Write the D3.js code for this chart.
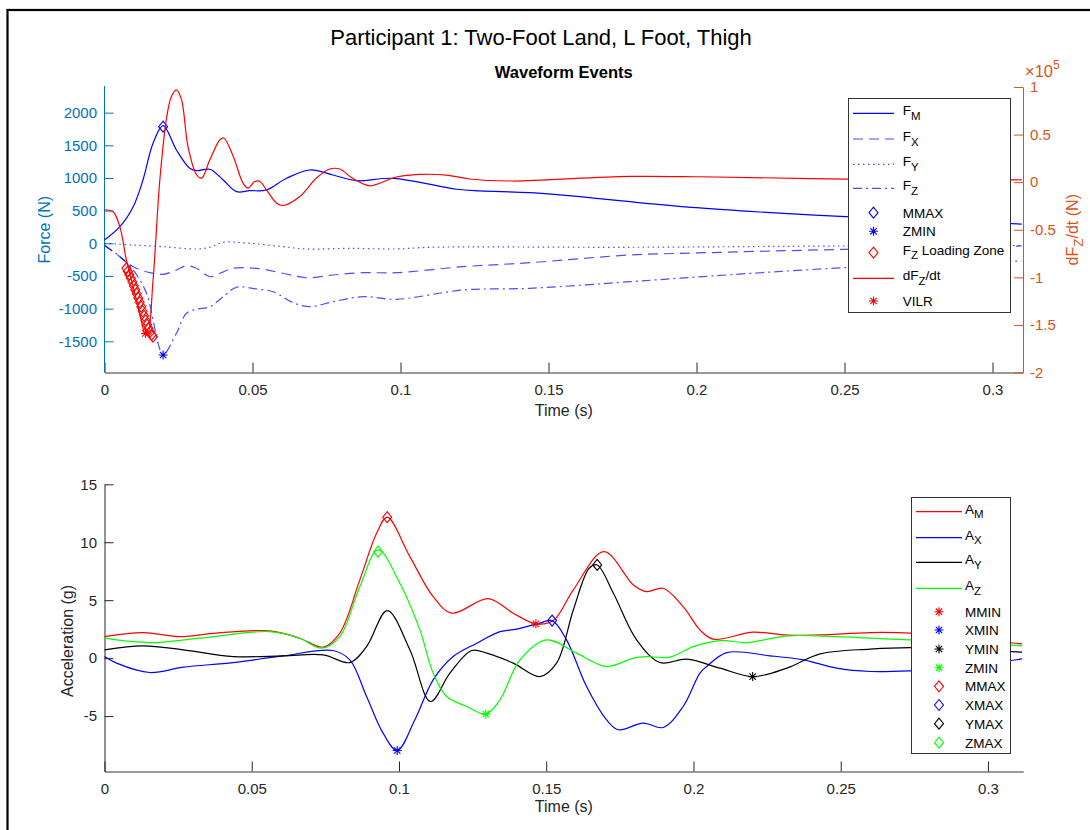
<!DOCTYPE html>
<html>
<head>
<meta charset="utf-8">
<title>Participant 1: Two-Foot Land, L Foot, Thigh</title>
<script src="https://cdnjs.cloudflare.com/ajax/libs/d3/7.8.5/d3.min.js"></script>
<style>
body { margin: 0; background: #fff; }
svg text { font-family: "Liberation Sans", Arial, Helvetica, sans-serif; }
</style>
</head>
<body>
<svg id="chart" width="1090" height="830"></svg>
<script>
// ---- force plate data (time s, force N) ----
var forceM = [[0,50],[0.0052,254],[0.0097,560],[0.0130,969],[0.0164,1531],[0.0198,1800],[0.0243,1428],[0.0288,1148],
  [0.0311,1111],[0.0356,1133],[0.0401,969],[0.0446,790],[0.0491,805],[0.0547,816],[0.0615,995],[0.0694,1122],
  [0.0772,1045],[0.0851,958],[0.0975,995],[0.1189,827],[0.1268,801],[0.1437,775],[0.1606,713],[0.1775,637],
  [0.2000,545],[0.2214,479],[0.2504,407],[0.2788,349],[0.3099,295]];
var forceX = [[0,-26],[0.0052,-205],[0.0097,-358],[0.0153,-450],[0.0198,-475],[0.0243,-409],[0.0277,-343],[0.0311,-383],
  [0.0356,-511],[0.0390,-459],[0.0434,-383],[0.0514,-383],[0.0603,-459],[0.0682,-527],[0.0772,-485],[0.0874,-450],
  [0.0986,-450],[0.1211,-358],[0.1437,-297],[0.1775,-179],[0.2000,-148],[0.2504,-92],[0.3099,-41]];
var forceY = [[0,0],[0.0097,-26],[0.0198,-52],[0.0311,-87],[0.0356,-61],[0.0401,15],[0.0491,0],[0.0603,-52],
  [0.0682,-87],[0.0829,-77],[0.0986,-87],[0.1099,-61],[0.1775,-61],[0.2504,-41],[0.3099,-34]];
var forceZ = [[0,-37],[0.0052,-205],[0.0097,-409],[0.0142,-765],[0.0164,-1174],[0.0181,-1531],[0.0198,-1710],
  [0.0243,-1378],[0.0277,-1071],[0.0311,-1010],[0.0356,-970],[0.0401,-817],[0.0446,-673],[0.0514,-700],
  [0.0570,-741],[0.0637,-909],[0.0694,-970],[0.0772,-894],[0.0874,-817],[0.0986,-857],[0.1211,-715],
  [0.1437,-689],[0.1775,-588],[0.2000,-516],[0.2504,-373],[0.3099,-271]];
// dFz/dt in units of 1e5 N/s
var dFzdt = [[0,-0.29],[0.0029,-0.31],[0.0052,-0.47],[0.0074,-0.82],[0.0097,-1.10],[0.0119,-1.38],[0.0136,-1.59],
  [0.0145,-1.61],[0.0164,-1.03],[0.0187,0.025],[0.0209,0.66],[0.0226,0.90],[0.0243,0.97],[0.0260,0.87],
  [0.0282,0.375],[0.0311,0.078],[0.0328,0.043],[0.0356,0.235],[0.0390,0.446],[0.0403,0.464],[0.0435,0.27],
  [0.0468,-0.01],[0.0485,-0.062],[0.0508,0.007],[0.0525,0.007],[0.0547,-0.08],[0.0581,-0.22],[0.0603,-0.245],
  [0.0660,-0.15],[0.0716,0.043],[0.0761,0.138],[0.0795,0.138],[0.0829,0.06],[0.0851,0.018],[0.0896,-0.038],
  [0.0986,0.054],[0.1065,0.081],[0.1155,0.075],[0.1234,0.033],[0.1380,0.012],[0.1493,0.025],[0.1775,0.06],
  [0.2011,0.057],[0.2504,0.033],[0.3099,0.025]];
var loadZoneT = [0.0074,0.0079,0.0084,0.0089,0.0094,0.0099,0.0104,0.0109,0.0114,0.0119,0.0124,0.0129,0.0134,
  0.0139,0.0144,0.0149,0.0154,0.0159,0.0164];
var loadZoneF = [-383,-430,-480,-535,-592,-650,-710,-772,-836,-902,-970,-1040,-1110,-1180,-1245,-1305,-1358,-1400,-1430];
var forceMMAX = [0.0198, 1785];
var forceZMIN = [0.0198, -1710];
var forceVILR = [0.0138, -1.59];

// ---- accelerometer data (time s, acceleration g) ----
var accM = [[0,1.86],[0.0131,2.21],[0.0256,1.86],[0.0380,2.16],[0.0561,2.35],[0.0663,1.72],[0.0743,0.95],[0.0799,2.16],
  [0.0867,6.75],[0.0924,10.78],[0.0960,12.16],[0.1037,8.76],[0.1116,5.31],[0.1179,3.88],[0.1303,5.14],[0.1388,3.88],
  [0.1465,2.96],[0.1524,3.24],[0.1592,5.89],[0.1696,9.19],[0.1796,6.32],[0.1841,5.74],[0.1897,6.03],[0.1965,4.45],
  [0.2022,2.44],[0.2067,1.64],[0.2203,2.24],[0.2317,1.98],[0.2430,2.01],[0.2600,2.21],[0.2735,2.16],[0.2905,1.75],[0.3116,1.23]];
var accX = [[0,0.14],[0.0041,-0.43],[0.0154,-1.24],[0.0267,-0.78],[0.0437,-0.38],[0.0607,0.2],[0.0776,0.66],[0.0833,-0.15],
  [0.0890,-3.31],[0.0946,-6.47],[0.0994,-7.97],[0.1054,-5.32],[0.1116,-1.87],[0.1184,0.14],[0.1264,1.29],[0.1343,2.29],
  [0.1399,2.5],[0.1478,3.02],[0.1520,3.24],[0.1569,1.58],[0.1637,-2.45],[0.1705,-5.32],[0.1745,-6.18],[0.1829,-5.6],
  [0.1897,-5.98],[0.1965,-4.17],[0.2022,-1.29],[0.2045,-0.72],[0.2113,0.48],[0.2260,0.2],[0.2373,-0.15],[0.2486,-0.86],
  [0.2600,-1.15],[0.2735,-1.09],[0.2922,-0.75],[0.3116,-0.06]];
var accY = [[0,0.72],[0.0131,1.06],[0.0267,0.72],[0.0437,0.14],[0.0607,0.2],[0.0743,0.28],[0.0833,-0.38],[0.0890,1.0],
  [0.0960,4.1],[0.1037,0.72],[0.1107,-3.74],[0.1173,-1.29],[0.1247,0.66],[0.1298,0.43],[0.1388,-0.43],[0.1478,-1.59],
  [0.1535,-0.43],[0.1592,4.16],[0.1646,7.76],[0.1673,8.04],[0.1728,5.6],[0.1807,1.58],[0.1886,-0.38],[0.1977,-0.09],
  [0.2090,-0.86],[0.2201,-1.59],[0.2317,-0.86],[0.2430,0.37],[0.2600,0.78],[0.2735,0.91],[0.2922,0.72],[0.3116,0.52]];
var accZ = [[0,1.72],[0.0154,1.34],[0.0324,1.72],[0.0561,2.29],[0.0663,1.72],[0.0737,0.86],[0.0799,1.86],[0.0867,6.17],
  [0.0929,9.34],[0.1003,6.47],[0.1071,2.44],[0.1116,-1.29],[0.1162,-3.31],[0.1230,-4.17],[0.1295,-4.83],[0.1343,-3.59],
  [0.1411,-0.15],[0.1501,1.58],[0.1603,0.43],[0.1705,-0.72],[0.1796,0],[0.1841,0.14],[0.1920,0.09],[0.1999,1.0],
  [0.2090,1.52],[0.2181,1.34],[0.2317,1.92],[0.2486,1.86],[0.2656,1.66],[0.2735,1.58],[0.2922,1.4],[0.3116,1.06]];
var accMins = [["MMIN",0.1465,2.96],["XMIN",0.0994,-7.97],["YMIN",0.2201,-1.59],["ZMIN",0.1295,-4.83]];
var accMaxs = [["MMAX",0.0960,12.16],["XMAX",0.1520,3.24],["YMAX",0.1673,8.04],["ZMAX",0.0929,9.19]];

var timeTicks = [0,0.05,0.1,0.15,0.2,0.25,0.3];
var forceTicks = [-1500,-1000,-500,0,500,1000,1500,2000];
var rateTicks = [-2e5,-1.5e5,-1e5,-0.5e5,0,0.5e5,1e5];
var accTicks = [-5,0,5,10,15];

var BLUE_AX = "#0072BD", ORANGE_AX = "#D95319", DARK = "#262626";

var svg = d3.select("#chart");
svg.append("rect").attr("width",1090).attr("height",830).attr("fill","#fff");
svg.append("rect").attr("x",7.5).attr("y",10).attr("width",1200).attr("height",1000)
  .attr("fill","none").attr("stroke","#000").attr("stroke-width",2.2);

svg.append("text").attr("x",541).attr("y",45).attr("text-anchor","middle")
  .attr("font-size",22).attr("fill","#000").text("Participant 1: Two-Foot Land, L Foot, Thigh");

function fmtNum(d){ return String(+d.toFixed(2)); }

function styleAxis(g, color, size){
  g.selectAll("path").attr("stroke", color).attr("stroke-width",1);
  g.selectAll("line").attr("stroke", color);
  g.selectAll("text").attr("fill", color).attr("font-size", size).attr("font-family",'"Liberation Sans", Arial, sans-serif');
}

var smooth = d3.curveCatmullRom.alpha(0.5);
function drawSeries(g, data, x, y, color, dash, op){
  g.append("path").datum(data)
    .attr("d", d3.line().x(function(d){return x(d[0]);}).y(function(d){return y(d[1]);}).curve(smooth))
    .attr("fill","none").attr("stroke",color).attr("stroke-width",1.2)
    .attr("stroke-dasharray",dash || null).attr("stroke-opacity", op || 1);
}
var diamondPath = "M0,-5.5L4.5,0L0,5.5L-4.5,0Z";
var starPath = "M-4.5,0L4.5,0M0,-4.5L0,4.5M-3.2,-3.2L3.2,3.2M-3.2,3.2L3.2,-3.2";
function marker(g, type, cx, cy, color){
  g.append("path").attr("d", type === "diamond" ? diamondPath : starPath)
    .attr("transform","translate(" + cx + "," + cy + ")")
    .attr("fill","none").attr("stroke",color).attr("stroke-width",1.1);
}
function labelText(g, x, y, parts, size, anchor, color){
  var t = g.append("text").attr("x",x).attr("y",y).attr("font-size",size).attr("fill",color || "#000");
  if (anchor) t.attr("text-anchor", anchor);
  t.append("tspan").text(parts[0]);
  if (parts[1]) {
    t.append("tspan").attr("dy", size*0.35).attr("font-size", size*0.85).text(parts[1]);
    if (parts[2]) t.append("tspan").attr("dy", -size*0.35).attr("font-size", size).text(parts[2]);
  }
  return t;
}

// ================= TOP PLOT =================
var topL = 104.5, topR = 1023, topT = 87, topB = 372.5;
var xTop = d3.scaleLinear().domain([0,0.3103]).range([topL, topR]);
var yForce = d3.scaleLinear().domain([-1977.7, 2392.5]).range([topB, topT]);
var yRate = d3.scaleLinear().domain([-2e5, 1e5]).range([topB, topT]);

svg.append("defs").append("clipPath").attr("id","clipTop").append("rect")
  .attr("x",topL).attr("y",topT-5).attr("width",topR-topL).attr("height",topB-topT+5);

var gTop = svg.append("g");
gTop.append("text").attr("x",(topL+topR)/2).attr("y",78).attr("text-anchor","middle")
  .attr("font-size",16.5).attr("font-weight","bold").attr("fill","#000").text("Waveform Events");

var gx = gTop.append("g").attr("transform","translate(0," + topB + ")")
  .call(d3.axisBottom(xTop).tickValues(timeTicks).tickFormat(fmtNum).tickSizeInner(-10).tickSizeOuter(0).tickPadding(12));
styleAxis(gx, DARK, 15);
gx.select(".domain").attr("stroke","#777").attr("stroke-width",1.4);
var gl = gTop.append("g").attr("transform","translate(" + topL + ",0)")
  .call(d3.axisLeft(yForce).tickValues(forceTicks).tickFormat(String).tickSizeInner(-9).tickSizeOuter(0).tickPadding(7.5));
gl.select(".domain").attr("d","M0," + topB + "V" + (topT-1));
styleAxis(gl, BLUE_AX, 15);
var gr = gTop.append("g").attr("transform","translate(" + topR + ",0)")
  .call(d3.axisRight(yRate).tickValues(rateTicks).tickFormat(function(d){return fmtNum(d/1e5);}).tickSizeInner(-9).tickSizeOuter(0).tickPadding(7));
styleAxis(gr, ORANGE_AX, 15);

// exponent label
var ex = gTop.append("text").attr("x",1025).attr("y",77).attr("font-size",16.5).attr("fill",ORANGE_AX);
ex.append("tspan").text("\u00d710");
ex.append("tspan").attr("dy",-8).attr("font-size",12).text("5");

gTop.append("text").attr("x",(topL+topR)/2).attr("y",416).attr("text-anchor","middle")
  .attr("font-size",16).attr("fill",DARK).text("Time (s)");
gTop.append("text").attr("transform","translate(50," + ((topT+topB)/2) + ") rotate(-90)")
  .attr("text-anchor","middle").attr("font-size",16).attr("fill",BLUE_AX).text("Force (N)");
var rl = labelText(gTop, 0, 0, ["dF","Z","/dt (N)"], 16, "middle", ORANGE_AX);
rl.attr("transform","translate(1077.5," + ((topT+topB)/2) + ") rotate(-90)");

var plotTop = gTop.append("g").attr("clip-path","url(#clipTop)");
drawSeries(plotTop, forceM, xTop, yForce, "#0000ff");
drawSeries(plotTop, forceX, xTop, yForce, "#0000ff", "10,6", 0.7);
drawSeries(plotTop, forceY, xTop, yForce, "#0000ff", "1.5,3.5", 0.7);
drawSeries(plotTop, forceZ, xTop, yForce, "#0000ff", "9,4,2,4", 0.7);
marker(plotTop, "diamond", xTop(forceMMAX[0]), yForce(forceMMAX[1]), "#0000ff");
marker(plotTop, "star", xTop(forceZMIN[0]), yForce(forceZMIN[1]), "#0000ff");
drawSeries(plotTop, dFzdt.map(function(d){return [d[0], d[1]*1e5];}), xTop, yRate, "#ff0000");
loadZoneT.forEach(function(t,i){ marker(plotTop, "diamond", xTop(t), yForce(loadZoneF[i]), "#ff0000"); });
marker(plotTop, "star", xTop(forceVILR[0]), yRate(forceVILR[1]*1e5), "#ff0000");

// top legend
var legTop = [
  {parts:["F","M"], type:"line", color:"#0000ff", y:113.3},
  {parts:["F","X"], type:"line", color:"#0000ff", dash:"10,6", op:0.7, y:139},
  {parts:["F","Y"], type:"line", color:"#0000ff", dash:"1.5,3.5", op:0.7, y:164.3},
  {parts:["F","Z"], type:"line", color:"#0000ff", dash:"9,4,2,4", op:0.7, y:188.3},
  {parts:["MMAX"], type:"diamond", color:"#0000ff", y:212.7},
  {parts:["ZMIN"], type:"star", color:"#0000ff", y:231.3},
  {parts:["F","Z"," Loading Zone"], type:"diamond", color:"#ff0000", y:252.7},
  {parts:["dF","Z","/dt"], type:"line", color:"#ff0000", y:278.3},
  {parts:["VILR"], type:"star", color:"#ff0000", y:301}
];
function drawLegend(items, bx, by, bw, bh, lx0, lx1, tx){
  var g = svg.append("g");
  g.append("rect").attr("x",bx).attr("y",by).attr("width",bw).attr("height",bh)
    .attr("fill","#fff").attr("stroke","#333").attr("stroke-width",1);
  items.forEach(function(it){
    if (it.type === "line") {
      g.append("line").attr("x1",lx0).attr("x2",lx1).attr("y1",it.y).attr("y2",it.y)
        .attr("stroke",it.color).attr("stroke-width",1.2).attr("stroke-dasharray",it.dash || null)
        .attr("stroke-opacity", it.op || 1);
    } else {
      marker(g, it.type, (lx0+lx1)/2, it.y, it.color);
    }
    labelText(g, tx, it.y + (it.parts[1] ? 2 : 5), it.parts, 13.5, null, "#000");
  });
}
drawLegend(legTop, 848.5, 98.5, 162, 214, 853, 894, 902.7);

// ================= BOTTOM PLOT =================
var botL = 104.5, botR = 1023.3, botT = 484.3, botB = 771.5;
var xBot = d3.scaleLinear().domain([0,0.312]).range([botL, botR]);
var yAcc = d3.scaleLinear().domain([-9.78, 15]).range([botB, botT]);
var gBot = svg.append("g");
var bxa = gBot.append("g").attr("transform","translate(0," + botB + ")")
  .call(d3.axisBottom(xBot).tickValues(timeTicks).tickFormat(fmtNum).tickSizeInner(-10).tickSizeOuter(0).tickPadding(12));
styleAxis(bxa, DARK, 15);
bxa.select(".domain").attr("stroke","#777").attr("stroke-width",1.4);
var bya = gBot.append("g").attr("transform","translate(" + botL + ",0)")
  .call(d3.axisLeft(yAcc).tickValues(accTicks).tickFormat(String).tickSizeInner(-9).tickSizeOuter(0).tickPadding(7.5));
styleAxis(bya, DARK, 15);
gBot.append("text").attr("x",(botL+botR)/2).attr("y",812).attr("text-anchor","middle")
  .attr("font-size",16).attr("fill",DARK).text("Time (s)");
gBot.append("text").attr("transform","translate(72.5,641) rotate(-90)")
  .attr("text-anchor","middle").attr("font-size",16).attr("fill",DARK).text("Acceleration (g)");

var accColors = {M:"#ff0000", X:"#0000ff", Y:"#000000", Z:"#00ff00"};
drawSeries(gBot, accM, xBot, yAcc, accColors.M);
drawSeries(gBot, accX, xBot, yAcc, accColors.X);
drawSeries(gBot, accY, xBot, yAcc, accColors.Y);
drawSeries(gBot, accZ, xBot, yAcc, accColors.Z);
accMins.forEach(function(d){ marker(gBot, "star", xBot(d[1]), yAcc(d[2]), accColors[d[0][0]]); });
accMaxs.forEach(function(d){ marker(gBot, "diamond", xBot(d[1]), yAcc(d[2]), accColors[d[0][0]]); });

var legBotY = [511.7,537.7,562.3,588.3,611.7,630,649,667.7,686.3,705,723.7,742.7];
var legBot = ["M","X","Y","Z"].map(function(k,i){
  return {parts:["A",k], type:"line", color:accColors[k], y:legBotY[i]};
}).concat(accMins.map(function(d,i){
  return {parts:[d[0]], type:"star", color:accColors[d[0][0]], y:legBotY[4+i]};
})).concat(accMaxs.map(function(d,i){
  return {parts:[d[0]], type:"diamond", color:accColors[d[0][0]], y:legBotY[8+i]};
}));
drawLegend(legBot, 911.5, 497.5, 99, 256, 916, 962, 965);
</script>
</body>
</html>
